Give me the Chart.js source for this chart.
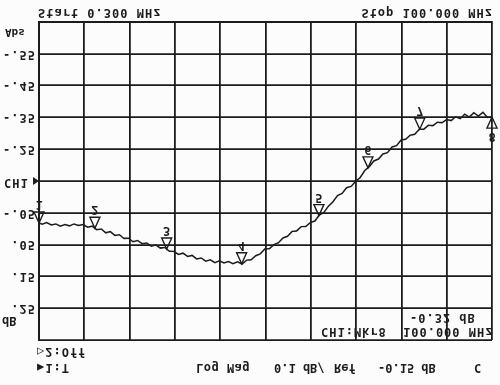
<!DOCTYPE html>
<html>
<head>
<meta charset="utf-8">
<script src="https://cdn.jsdelivr.net/npm/chart.js@4/dist/chart.umd.min.js"></script>
<style>
  html, body { margin: 0; background: #fcfcfc; }
  /* the photo of the analyzer screen is upside down, so flip the whole canvas */
  #vna { display: block; transform: scaleY(-1); }
</style>
</head>
<body>
<canvas id="vna" width="500" height="385"></canvas>
<script>
const freqMHz = [
  0.3, 1, 2, 3, 4, 5, 6, 7, 8, 9, 10, 11, 12, 13, 14, 15, 16, 17, 18, 19, 20,
  21, 22, 23, 24, 25, 26, 27, 28, 29, 30, 31, 32, 33, 34, 35, 36, 37, 38, 39, 40,
  41, 42, 43, 44, 45, 46, 47, 48, 49, 50, 51, 52, 53, 54, 55, 56, 57, 58, 59, 60,
  61, 62, 63, 64, 65, 66, 67, 68, 69, 70, 71, 72, 73, 74, 75, 76, 77, 78, 79, 80,
  81, 82, 83, 84, 85, 86, 87, 88, 89, 90, 91, 92, 93, 94, 95, 96, 97, 98, 99, 100
];
const lossDb = [
  -0.018, -0.014, -0.019, -0.012, -0.015, -0.008, -0.013, -0.009, -0.015, -0.010, -0.013,
  -0.005, -0.008, 0.003, 0.001, 0.013, 0.009, 0.021, 0.019, 0.031, 0.030,
  0.041, 0.037, 0.047, 0.045, 0.055, 0.051, 0.061, 0.059, 0.071, 0.072,
  0.081, 0.077, 0.087, 0.084, 0.095, 0.092, 0.102, 0.098, 0.107, 0.101,
  0.108, 0.103, 0.110, 0.104, 0.111, 0.099, 0.098, 0.085, 0.079, 0.064,
  0.063, 0.050, 0.044, 0.029, 0.024, 0.009, 0.007, -0.006, -0.007, -0.019,
  -0.024, -0.043, -0.051, -0.071, -0.085, -0.104, -0.111, -0.129, -0.133, -0.149,
  -0.161, -0.183, -0.195, -0.213, -0.219, -0.235, -0.239, -0.257, -0.261, -0.279,
  -0.281, -0.294, -0.297, -0.313, -0.313, -0.325, -0.324, -0.335, -0.333, -0.343,
  -0.340, -0.352, -0.346, -0.360, -0.351, -0.365, -0.354, -0.366, -0.350, -0.351
];
const yTickValues = [-0.65, -0.55, -0.45, -0.35, -0.25, -0.15, -0.05, 0.05, 0.15, 0.25, 0.35];
const yTickLabels = ["", "-.55", "-.45", "-.35", "-.25", "", "-.05", ".05", ".15", ".25", ""];
const xGridMHz = [0.3, 10.27, 20.24, 30.21, 40.18, 50.15, 60.12, 70.09, 80.06, 90.03, 100];
const markerMHz = [0.3, 12.6, 28.4, 44.9, 61.9, 72.7, 84.1, 100];
const markerNames = ["1", "2", "3", "4", "5", "6", "7", "8"];
const activeMarker = "8";
const refLevel = -0.15;

const INK = "#1c1c1c";
const MONO = "'DejaVu Sans Mono', 'Liberation Mono', monospace";
const H = 385;

function lossAt(f) {
  for (let i = 1; i < freqMHz.length; i++) {
    if (f <= freqMHz[i]) {
      const t = (f - freqMHz[i - 1]) / (freqMHz[i] - freqMHz[i - 1]);
      return lossDb[i - 1] + t * (lossDb[i] - lossDb[i - 1]);
    }
  }
  return lossDb[lossDb.length - 1];
}

// text positions below are given as they appear on screen (after the flip)
const screenText = {
  id: "screenText",
  beforeDraw(chart) {
    chart.ctx.letterSpacing = "1px";
  },
  afterDraw(chart) {
    const ctx = chart.ctx;
    const { x, y } = chart.scales;
    const put = (txt, px, py, align, size, gap) => {
      ctx.font = "bold " + (size || 12) + "px " + MONO;
      ctx.letterSpacing = (gap === undefined ? 1 : gap) + "px";
      ctx.textAlign = align || "left";
      ctx.fillText(txt, px, H - py);
    };
    ctx.save();
    ctx.fillStyle = INK;
    ctx.strokeStyle = INK;
    ctx.textBaseline = "middle";

    put("Start 0.300 MHz", 38, 12);
    put("Stop 100.000 MHz", 493, 12, "right");
    put("Abs", 5, 32, "left", 11, 0);
    put("dB", 2, 320, "left", 12, 0);
    put("CH1", 4, 182);
    put("\u25B72:Off", 37, 351);
    put("\u25B61:T", 37, 367);
    put("Log Mag", 196, 367, "left", 12, 0.5);
    put("0.1 dB/", 274, 367, "left", 12, 0);
    put("Ref", 334, 367, "left", 12, 0);
    put("-0.15 dB", 378, 367, "left", 12, 0);
    put("C", 474, 367);
    put("-0.32 dB", 410, 317);
    put("CH1:Mkr8", 321, 331);
    put("100.000 MHz", 403, 331);

    // reference position arrow on the left edge
    const ry = y.getPixelForValue(refLevel);
    ctx.beginPath();
    ctx.moveTo(x.left, ry);
    ctx.lineTo(x.left - 6, ry - 4);
    ctx.lineTo(x.left - 6, ry + 4);
    ctx.closePath();
    ctx.fill();

    // markers: open triangles touching the trace, number beyond the base
    ctx.lineWidth = 1.4;
    markerMHz.forEach((f, i) => {
      const px = x.getPixelForValue(f);
      const py = y.getPixelForValue(lossAt(f));
      const dir = markerNames[i] === activeMarker ? -1 : 1;
      ctx.beginPath();
      ctx.moveTo(px, py);
      ctx.lineTo(px - 5, py + dir * 11);
      ctx.lineTo(px + 5, py + dir * 11);
      ctx.closePath();
      ctx.stroke();
      put(markerNames[i], px, H - (py + dir * 19), "center", 12, 0);
    });
    ctx.restore();
  }
};

new Chart(document.getElementById("vna"), {
  type: "line",
  data: {
    datasets: [
      {
        label: "CH1 log mag",
        data: freqMHz.map((f, i) => ({ x: f, y: lossDb[i] })),
        borderColor: INK,
        borderWidth: 1.5,
        pointRadius: 0,
        tension: 0
      }
    ]
  },
  options: {
    responsive: false,
    animation: false,
    devicePixelRatio: 1,
    layout: { padding: { top: 45, bottom: 22, left: 0, right: 8 } },
    plugins: { legend: { display: false }, tooltip: { enabled: false } },
    scales: {
      x: {
        type: "linear",
        min: 0.3,
        max: 100,
        afterBuildTicks: s => { s.ticks = xGridMHz.map(v => ({ value: v })); },
        afterFit: s => { s.height = 0; },
        ticks: { display: false },
        grid: { color: INK, lineWidth: 1.8, drawTicks: false },
        border: { color: INK, width: 2 }
      },
      y: {
        min: -0.65,
        max: 0.35,
        afterBuildTicks: s => { s.ticks = yTickValues.map(v => ({ value: v })); },
        afterFit: s => { s.width = 39; },
        ticks: {
          padding: 3,
          color: INK,
          font: { family: MONO, size: 12, weight: "bold" },
          callback: (v, i) => yTickLabels[i]
        },
        grid: { color: INK, lineWidth: 1.8, drawTicks: false },
        border: { color: INK, width: 2 }
      }
    }
  },
  plugins: [screenText]
});
</script>
</body>
</html>
